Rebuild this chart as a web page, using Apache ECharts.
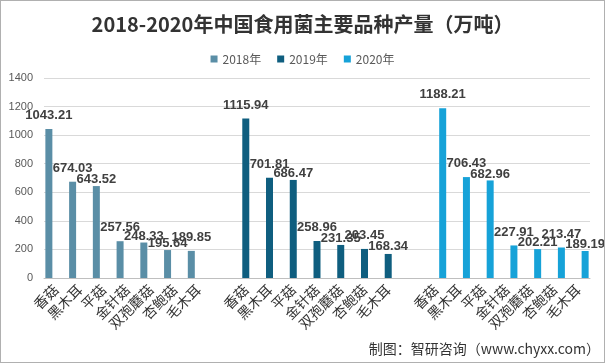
<!DOCTYPE html>
<html><head><meta charset="utf-8">
<script src="https://cdn.jsdelivr.net/npm/echarts@6/dist/echarts.min.js"></script>
<style>html,body{margin:0;padding:0;background:#fff}#c{width:603px;height:361px;border:1px solid #b0b0b0}</style>
</head><body><div id="c"></div>
<script>
const kinds = ['香菇','黑木耳','平菇','金针菇','双孢蘑菇','杏鲍菇','毛木耳'];
const years = ['2018年','2019年','2020年'];
const v2018 = [1043.21, 674.03, 643.52, 257.56, 248.33, 195.64, 189.85];
const v2019 = [1115.94, 701.81, 686.47, 258.96, 231.35, 203.45, 168.34];
const v2020 = [1188.21, 706.43, 682.96, 227.91, 202.21, 213.47, 189.19];
const yTicks = {min:0, max:1400, interval:200};
const colors = ['#5a8ea6','#0f5e7f','#16a2d8'];

// 23 categories: group, blank, group, blank, group
const cats = [];
const groups = [v2018, v2019, v2020];
groups.forEach((g, gi) => {
  kinds.forEach(k => cats.push(k));
  if (gi < 2) cats.push('');
});
function seriesData(gi){
  const out = new Array(cats.length).fill(null);
  groups[gi].forEach((v, i) => { out[gi*8 + i] = v; });
  return out;
}
// push a label down (towards its bar) when it collides with the previous label
const placed = {};
const LABEL_DIST = 7;
function avoid(params){
  const key = params.seriesIndex + '-' + params.dataIndex;
  const prev = placed[params.seriesIndex + '-' + (params.dataIndex - 1)];
  const r = params.labelRect;
  let dy = 0;
  if (prev) {
    const hOverlap = r.x < prev.x + prev.width && prev.x < r.x + r.width;
    const vOverlap = r.y < prev.y + prev.height && prev.y < r.y + r.height;
    if (hOverlap && vOverlap && r.y >= prev.y) {
      dy = Math.min(prev.y + prev.height - r.y - 2, LABEL_DIST);
      if (dy < 0) dy = 0;
    }
  }
  placed[key] = {x:r.x, y:r.y + dy, width:r.width, height:r.height};
  return {dy: dy};
}
const chart = echarts.init(document.getElementById('c'));
chart.setOption({
  animation:false,
  title:{text:'2018-2020年中国食用菌主要品种产量（万吨）', left:'center', top:8,
    textStyle:{fontSize:20, fontWeight:'bold', color:'#333', fontFamily:'"Noto Sans CJK SC", sans-serif'}},
  legend:{data:years, top:47, left:'center', itemWidth:7, itemHeight:7, itemGap:16, icon:'rect',
    textStyle:{fontSize:12, color:'#595959', fontFamily:'"Noto Sans CJK SC", sans-serif'}},
  graphic:[{type:'text', right:4, bottom:6, style:{text:'制图：智研咨询（www.chyxx.com）', fontSize:14, fill:'#333', fontFamily:'"Noto Sans CJK SC", sans-serif'}}],
  grid:{left:43, right:14, top:77, bottom:84, containLabel:false},
  xAxis:{type:'category', data:cats, axisTick:{show:false},
    axisLine:{lineStyle:{color:'#bfbfbf'}},
    axisLabel:{interval:0, rotate:45, fontSize:14, color:'#333', margin:9, fontFamily:'"Noto Sans CJK SC", sans-serif'}},
  yAxis:{type:'value', min:yTicks.min, max:yTicks.max, interval:yTicks.interval,
    axisLine:{show:false}, axisTick:{show:false},
    splitLine:{lineStyle:{color:'#d9d9d9'}},
    axisLabel:{fontSize:11, color:'#595959', margin:11, formatter:v => String(v), fontFamily:'"Liberation Sans", sans-serif'}},
  series: years.map((y, gi) => ({
    name:y, type:'bar', data:seriesData(gi), barWidth:7, barGap:'0%',
    itemStyle:{color:colors[gi]},
    labelLayout: avoid,
    label:{show:true, position:'top', distance:LABEL_DIST, fontSize:13, fontWeight:'bold', color:'#404040',
      fontFamily:'"Liberation Sans", sans-serif', formatter:p => p.value.toFixed(2)}
  }))
});
</script></body></html>
